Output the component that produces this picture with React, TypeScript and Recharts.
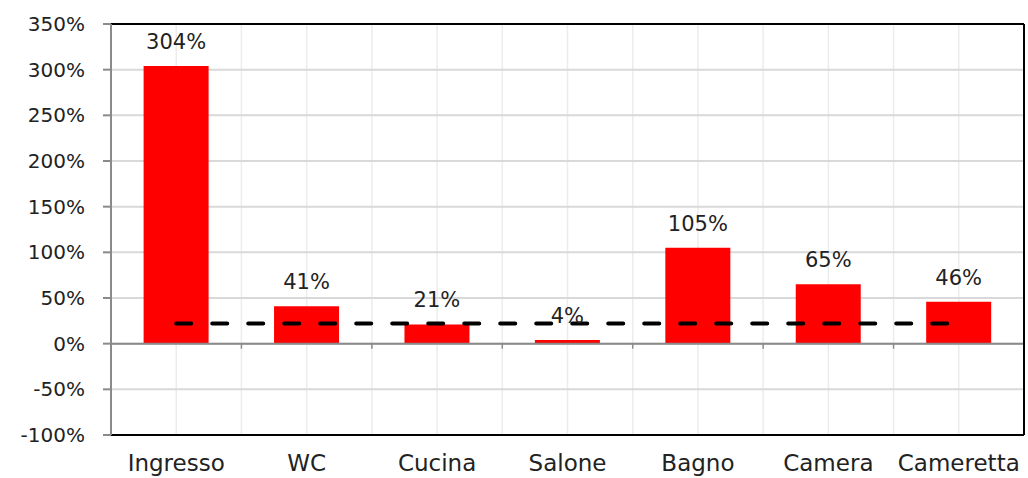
import React from 'react';
import {
  ComposedChart, Bar, Line, XAxis, YAxis, CartesianGrid, LabelList, ReferenceLine,
} from 'recharts';

const rooms = ['Ingresso', 'WC', 'Cucina', 'Salone', 'Bagno', 'Camera', 'Cameretta'];
const deviation = [304, 41, 21, 4, 105, 65, 46];
const threshold = [22, 22, 22, 22, 22, 22, 22];
const yTicks = [-100, -50, 0, 50, 100, 150, 200, 250, 300, 350];

const data = rooms.map((room, i) => ({ room, value: deviation[i], limit: threshold[i] }));

const FONT = '"DejaVu Sans", sans-serif';
const pct = (v: any) => `${v}%`;

// zero line with small ticks at category boundaries
const ZeroLine = (props: any) => {
  const { x1, x2, y1 } = props;
  const n = rooms.length;
  const step = (x2 - x1) / n;
  const ticks = [];
  for (let i = 1; i <= n; i++) {
    const x = x1 + step * i;
    ticks.push(<line key={i} x1={x} x2={x} y1={y1} y2={y1 + 5} stroke="#8a8a8a" strokeWidth={1.5} />);
  }
  return (
    <g>
      <line x1={x1} x2={x2} y1={y1} y2={y1} stroke="#8a8a8a" strokeWidth={2} />
      {ticks}
    </g>
  );
};

export default function App() {
  return (
    <div style={{ position: 'absolute', left: 0, top: 0, background: '#fff' }}>
      <ComposedChart
        width={1028}
        height={478}
        data={data}
        margin={{ top: 24, right: 2, bottom: 0, left: 0 }}
        barCategoryGap="25%"
      >
        <CartesianGrid
          horizontal={false}
          stroke="#ececec"
          strokeWidth={1.5}
          verticalCoordinatesGenerator={({ offset }: any) => {
            const res = [];
            const half = offset.width / (rooms.length * 2);
            for (let i = 1; i < rooms.length * 2; i++) res.push(offset.left + half * i);
            return res;
          }}
        />
        <CartesianGrid vertical={false} stroke="#d9d9d9" strokeWidth={2} />
        <XAxis
          dataKey="room"
          height={43}
          axisLine={{ stroke: '#000', strokeWidth: 2 }}
          tickLine={false}
          tickSize={0}
          tickMargin={20}
          tick={{ fill: '#222', fontSize: 23, fontFamily: FONT }}
          interval={0}
        />
        <YAxis
          domain={[-100, 350]}
          ticks={yTicks}
          width={111}
          tickFormatter={pct}
          axisLine={{ stroke: '#8a8a8a', strokeWidth: 2 }}
          tickLine={{ stroke: '#8a8a8a', strokeWidth: 2 }}
          tickSize={8}
          tickMargin={18}
          tick={{ fill: '#222', fontSize: 20, fontFamily: FONT }}
          interval={0}
        />
        <YAxis yAxisId="right" orientation="right" width={2} domain={[-100, 350]} tick={false} tickLine={false}
          axisLine={{ stroke: '#000', strokeWidth: 2 }} />
        <ReferenceLine y={350} stroke="#000" strokeWidth={2} />
        <ReferenceLine y={0} shape={<ZeroLine />} />
        <Bar dataKey="value" fill="#ff0000" isAnimationActive={false}>
          <LabelList dataKey="value" position="top" offset={17} formatter={pct}
            style={{ fill: '#222', fontSize: 21, fontFamily: FONT }} />
        </Bar>
        <Line
          dataKey="limit"
          stroke="#000"
          strokeWidth={4}
          strokeDasharray="15 21"
          strokeLinecap="round"
          dot={false}
          activeDot={false}
          isAnimationActive={false}
        />
      </ComposedChart>
    </div>
  );
}
